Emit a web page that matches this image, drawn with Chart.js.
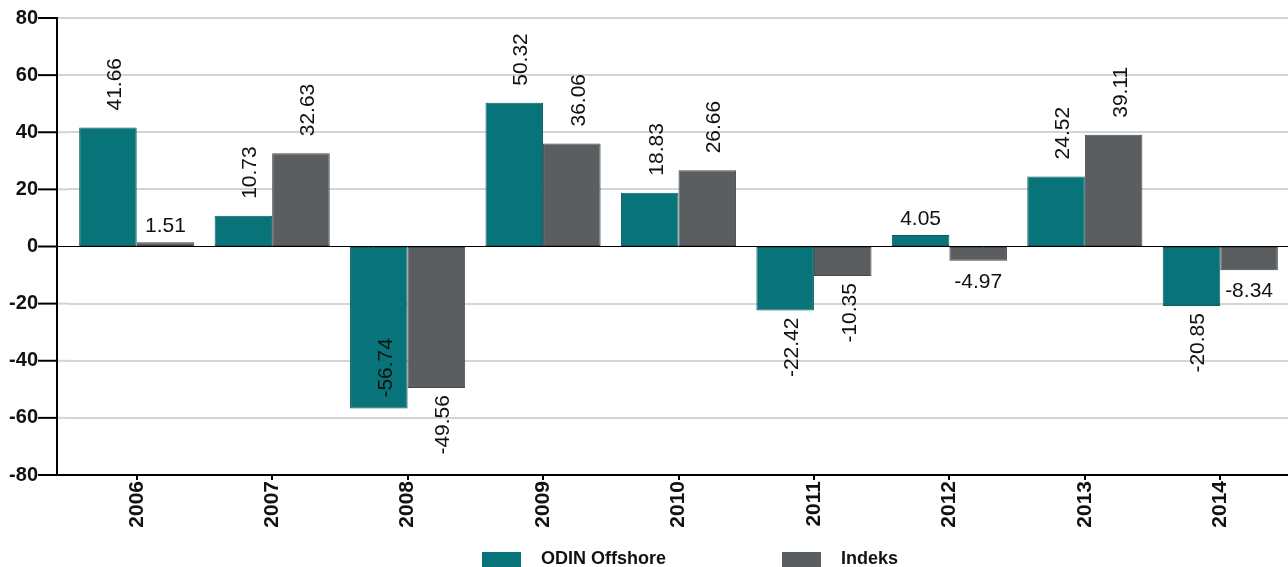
<!DOCTYPE html>
<html>
<head>
<meta charset="utf-8">
<script src="https://cdn.jsdelivr.net/npm/chart.js@4.4.1/dist/chart.umd.min.js"></script>
<style>
html,body{margin:0;padding:0;background:#fff;}
#wrap{width:1288px;height:567px;position:relative;}
</style>
</head>
<body>
<div id="wrap"><canvas id="c"></canvas></div>
<script>
const categories = ['2006','2007','2008','2009','2010','2011','2012','2013','2014'];
const odinOffshore = [41.66, 10.73, -56.74, 50.32, 18.83, -22.42, 4.05, 24.52, -20.85];
const indeks = [1.51, 32.63, -49.56, 36.06, 26.66, -10.35, -4.97, 39.11, -8.34];
const seriesNames = ['ODIN Offshore', 'Indeks'];
const yTicks = [-80, -60, -40, -20, 0, 20, 40, 60, 80];

const FONT = '"Liberation Sans", Arial, Helvetica, sans-serif';
const TEAL = '#087479';
const GRAY = '#5b5e61';

const yAxisExtra = {
  id: 'yAxisExtra',
  beforeDatasetsDraw(chart) {
    const ctx = chart.ctx, ca = chart.chartArea, y = chart.scales.y;
    const axisX = ca.left - 12;
    ctx.save();
    yTicks.forEach(v => {
      const py = y.getPixelForValue(v);
      if (v !== 0 && v !== -80) {
        ctx.strokeStyle = '#d4d4d4'; ctx.lineWidth = 2;
        ctx.beginPath(); ctx.moveTo(axisX, py); ctx.lineTo(ca.left, py); ctx.stroke();
      }
      if (v === 0) {
        ctx.strokeStyle = '#000'; ctx.lineWidth = 1;
        ctx.beginPath(); ctx.moveTo(axisX, py); ctx.lineTo(ca.left, py); ctx.stroke();
      }
      if (v === -80) {
        ctx.strokeStyle = '#000'; ctx.lineWidth = 2;
        ctx.beginPath(); ctx.moveTo(axisX, py); ctx.lineTo(ca.left, py); ctx.stroke();
      }
      ctx.strokeStyle = '#000'; ctx.lineWidth = 2;
      ctx.beginPath(); ctx.moveTo(ca.left - 31, py); ctx.lineTo(axisX, py); ctx.stroke();
    });
    ctx.strokeStyle = '#000'; ctx.lineWidth = 2;
    ctx.beginPath(); ctx.moveTo(axisX, ca.top - 1); ctx.lineTo(axisX, ca.bottom + 1); ctx.stroke();
    ctx.restore();
  }
};

const valueLabels = {
  id: 'valueLabels',
  afterDatasetsDraw(chart) {
    const ctx = chart.ctx, ca = chart.chartArea;
    ctx.save();
    ctx.fillStyle = '#111';
    ctx.font = '21px ' + FONT;
    chart.data.datasets.forEach((ds, di) => {
      const meta = chart.getDatasetMeta(di);
      meta.data.forEach((bar, i) => {
        const v = ds.data[i];
        const txt = v.toFixed(2);
        const w = ctx.measureText(txt).width;
        if (Math.abs(v) < 10) {
          ctx.textAlign = 'center';
          ctx.textBaseline = 'alphabetic';
          const ty = v >= 0 ? bar.y - 10 : bar.y + 27;
          ctx.fillText(txt, bar.x, ty);
        } else {
          ctx.save();
          let anchorY, align;
          if (v >= 0) { anchorY = bar.y - 17; align = 'left'; }
          else {
            if (bar.y + 7 + w > ca.bottom - 10) { anchorY = bar.y - 11; align = 'left'; }
            else { anchorY = bar.y + 7; align = 'right'; }
          }
          ctx.translate(bar.x + 13, anchorY);
          ctx.rotate(-Math.PI / 2);
          ctx.textAlign = align;
          ctx.textBaseline = 'alphabetic';
          ctx.fillText(txt, 0, 0);
          ctx.restore();
        }
      });
    });
    ctx.restore();
  }
};

const customLegend = {
  id: 'customLegend',
  afterDraw(chart) {
    const ctx = chart.ctx;
    const items = [
      {x: 482, color: TEAL, text: chart.data.datasets[0].label},
      {x: 782, color: GRAY, text: chart.data.datasets[1].label}
    ];
    ctx.save();
    ctx.font = 'bold 18px ' + FONT;
    ctx.textAlign = 'left';
    ctx.textBaseline = 'middle';
    items.forEach(it => {
      ctx.fillStyle = it.color;
      ctx.fillRect(it.x, 552, 39, 16);
      ctx.fillStyle = '#111';
      ctx.fillText(it.text, it.x + 59, 559.5);
    });
    ctx.restore();
  }
};

new Chart(document.getElementById('c'), {
  type: 'bar',
  data: {
    labels: categories,
    datasets: [
      {label: seriesNames[0], data: odinOffshore, backgroundColor: TEAL, borderColor: '#0b5c60', borderWidth: 1, borderSkipped: false},
      {label: seriesNames[1], data: indeks, backgroundColor: GRAY, borderColor: '#45484b', borderWidth: 1, borderSkipped: false}
    ]
  },
  options: {
    responsive: true,
    maintainAspectRatio: false,
    animation: false,
    devicePixelRatio: 1,
    layout: {padding: {top: 18, right: 0, bottom: 32, left: 0}},
    datasets: {bar: {categoryPercentage: 0.85, barPercentage: 1.0}},
    plugins: {
      legend: {display: false},
      tooltip: {enabled: false}
    },
    scales: {
      x: {
        grid: {offset: false, drawOnChartArea: false, drawTicks: true, tickLength: 5, color: '#000', lineWidth: 2},
        border: {display: true, color: '#000', width: 2},
        ticks: {
          color: '#111', font: {family: FONT, size: 21, weight: 'bold'},
          minRotation: 90, maxRotation: 90, padding: 1, autoSkip: false
        },
        afterFit(scale) { scale.height = 60; }
      },
      y: {
        min: -80, max: 80,
        afterBuildTicks(scale) { scale.ticks = yTicks.map(v => ({value: v})); },
        grid: {
          drawTicks: true,
          tickLength: 31,
          tickColor: 'rgba(0,0,0,0)',
          color: ctx => ctx.tick && ctx.tick.value === 0 ? '#000' : '#d4d4d4',
          lineWidth: ctx => ctx.tick && ctx.tick.value === 0 ? 1 : 2
        },
        border: {display: false},
        ticks: {
          color: '#111', font: {family: FONT, size: 20, weight: 'bold'},
          padding: 0
        },
        afterFit(scale) { scale.width = 69; }
      }
    }
  },
  plugins: [yAxisExtra, valueLabels, customLegend]
});
</script>
</body>
</html>
